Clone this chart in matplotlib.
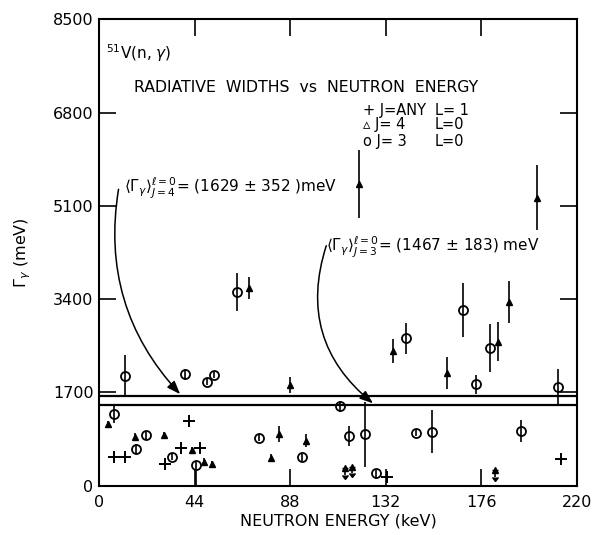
import matplotlib
matplotlib.use("Agg")
import matplotlib.pyplot as plt
from matplotlib.patches import FancyArrowPatch

# ---- data (keV, meV) ----
plus_x = [7.1, 12.0, 30.3, 37.9, 41.5, 46.3, 212.5, 132.5]
plus_y = [525, 525, 392, 689, 1176, 678, 478, 150]
plus_err = [70, 70, 70, 70, 70, 70, 60, 110]

tri_x = [4.2, 16.5, 29.8, 42.9, 48.4, 52.2, 69.2, 79.3, 82.7, 87.7, 95.4,
         119.8, 135.5, 160.1, 183.5, 188.9, 201.7]
tri_y = [1116, 890, 921, 647, 434, 387, 3595, 507, 939, 1832, 817,
         5491, 2452, 2046, 2622, 3340, 5247]
tri_err = [60, 60, 60, 60, 60, 60, 200, 60, 150, 150, 120,
           620, 210, 290, 350, 380, 590]

trilim_x = [113.0, 116.4, 182.3]
trilim_y = [314, 343, 283]

circ_x = [7.1, 12.0, 17.1, 21.8, 33.7, 39.8, 44.7, 49.9, 53.1, 63.7, 73.8,
          93.6, 111.0, 114.9, 122.2, 127.4, 141.4, 145.7, 153.3, 167.4,
          173.4, 180.0, 194.3, 211.1]
circ_y = [1304, 1996, 660, 915, 525, 2027, 374, 1892, 2015, 3533, 871,
          514, 1449, 902, 939, 222, 2684, 963, 981, 3200,
          1845, 2512, 999, 1801]
circ_err_lo = [170, 380, 90, 60, 60, 100, 374, 60, 60, 350, 60,
               60, 100, 175, 600, 100, 280, 60, 390, 490,
               170, 440, 200, 330]
circ_err_hi = [170, 380, 90, 60, 60, 100, 60, 60, 60, 350, 60,
               60, 100, 175, 580, 60, 280, 60, 390, 490,
               170, 440, 200, 330]

mean_J4 = 1629
mean_J3 = 1467

xticks = [0, 44, 88, 132, 176, 220]
yticks = [0, 1700, 3400, 5100, 6800, 8500]

# ---- figure ----
fig = plt.figure(figsize=(5.94, 5.35), dpi=100)
ax = fig.add_axes([99/594, 1 - 485.5/535, (577 - 99)/594, (485.5 - 19.3)/535])

ax.errorbar(plus_x, plus_y, yerr=plus_err, fmt='+', color='black', ms=8,
            mew=1.4, elinewidth=1.2, capsize=0)
ax.errorbar(tri_x, tri_y, yerr=tri_err, fmt='^', color='black', ms=5,
            elinewidth=1.2, capsize=0)
ax.errorbar(trilim_x, trilim_y, yerr=[120]*len(trilim_x), uplims=True,
            fmt='^', color='black', ms=5, elinewidth=1.2, capsize=2)
ax.errorbar(circ_x, circ_y, yerr=[circ_err_lo, circ_err_hi], fmt='o',
            color='black', mfc='none', ms=6.5, mew=1.3, elinewidth=1.2,
            capsize=0)

ax.axhline(mean_J4, color='black', lw=1.6)
ax.axhline(mean_J3, color='black', lw=1.6)

ax.set_xlim(0, 220)
ax.set_ylim(0, 8500)
ax.set_xticks(xticks)
ax.set_yticks(yticks)
ax.tick_params(direction='in', length=12, width=1.2, top=True, right=True,
               labelsize=11.5)
ax.tick_params(axis='x', pad=7)
ax.tick_params(axis='y', pad=4)
for s in ax.spines.values():
    s.set_linewidth(1.5)

ax.set_xlabel('NEUTRON ENERGY (keV)', fontsize=11.5, labelpad=2)
ax.set_ylabel(r'$\Gamma_\gamma$ (meV)', fontsize=11.5, labelpad=14)

ax.text(3.0, 7880, r'$^{51}$V(n, $\gamma$)', fontsize=11, va='center')
ax.text(15.9, 7264, 'RADIATIVE  WIDTHS  vs  NEUTRON  ENERGY', fontsize=11.3,
        va='center')

leg_rows = [('+ J=ANY', 'L= 1', 6845), ('\u25B5 J= 4', 'L=0', 6573),
            ('o J= 3', 'L=0', 6281)]
for left, right, yy in leg_rows:
    ax.text(121.3, yy, left, fontsize=10.5, va='center')
    ax.text(154.7, yy, right, fontsize=10.5, va='center')

ax.text(11.5, 5420,
        r'$\langle\Gamma_\gamma\rangle^{\ell=0}_{J=4}$= (1629 $\pm$ 352 )meV',
        fontsize=11, va='center')
ax.text(104.5, 4340,
        r'$\langle\Gamma_\gamma\rangle^{\ell=0}_{J=3}$= (1467 $\pm$ 183) meV',
        fontsize=11, va='center')

a1 = FancyArrowPatch((9.2, 5450), (38.2, mean_J4), connectionstyle='arc3,rad=0.25',
                     arrowstyle='-|>,head_length=8,head_width=3', color='black',
                     lw=1.1, mutation_scale=1)
a2 = FancyArrowPatch((105.0, 4420), (127.1, mean_J3), connectionstyle='arc3,rad=0.35',
                     arrowstyle='-|>,head_length=8,head_width=3', color='black',
                     lw=1.1, mutation_scale=1)
ax.add_patch(a1)
ax.add_patch(a2)

fig.savefig('out.png', dpi=100)
